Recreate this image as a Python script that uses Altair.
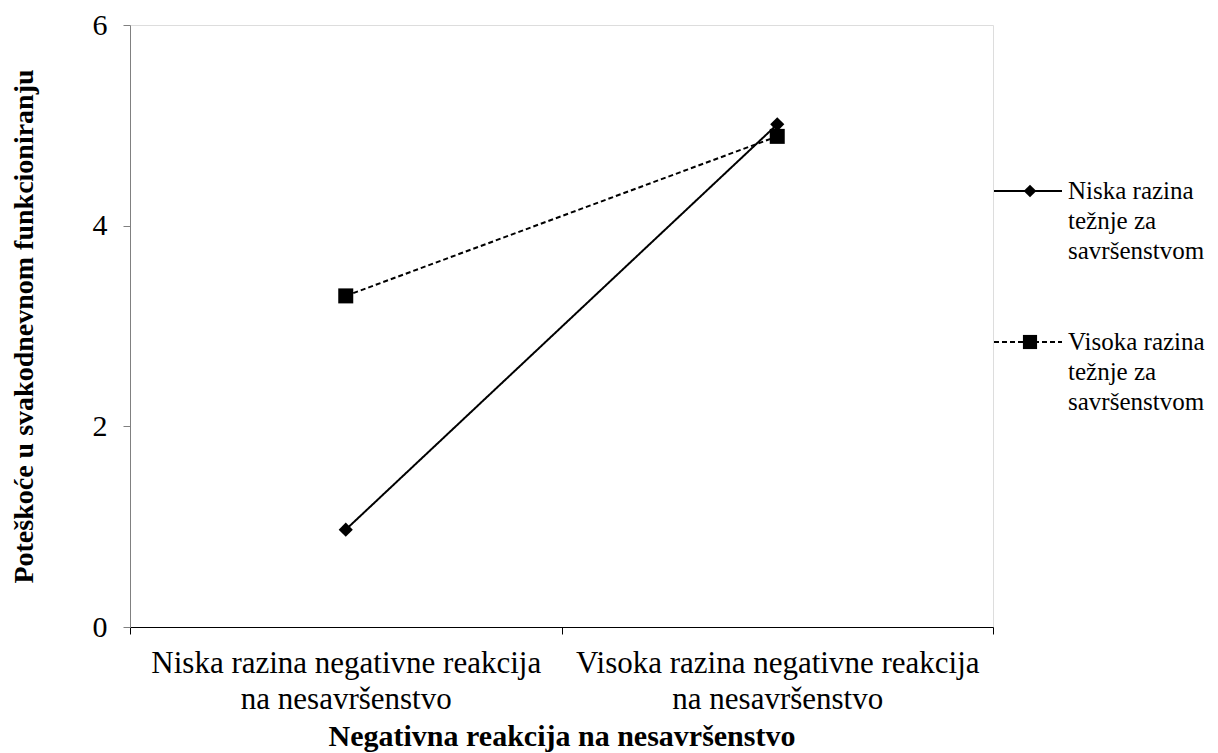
import altair as alt
import pandas as pd

categories = [
    "Niska razina negativne reakcija\nna nesavršenstvo",
    "Visoka razina negativne reakcija\nna nesavršenstvo",
]
series_names = [
    "Niska razina težnje za savršenstvom",
    "Visoka razina težnje za savršenstvom",
]
legend_labels = [
    "Niska razina\ntežnje za\nsavršenstvom",
    "Visoka razina\ntežnje za\nsavršenstvom",
]
niska_values = [0.97, 5.01]
visoka_values = [3.30, 4.89]
y_ticks = [0, 2, 4, 6]

FONT = "Times New Roman, Liberation Serif, serif"

rows = []
for s, vals in zip(series_names, [niska_values, visoka_values]):
    for c, v in zip(categories, vals):
        rows.append({"kat": c, "serija": s, "vrijednost": v})
df = pd.DataFrame(rows)

x_enc = alt.X(
    "kat:N",
    sort=categories,
    scale=alt.Scale(type="band", paddingInner=0, paddingOuter=0, domain=categories),
    axis=alt.Axis(
        title="Negativna reakcija na nesavršenstvo",
        tickBand="extent",
        labelExpr="split(datum.label, '\\n')",
        labelAngle=0,
        labelLimit=0,
        labelFont=FONT,
        labelFontSize=31,
        labelColor="black",
        labelLineHeight=36,
        labelPadding=14,
        labelBaseline="top",
        domainColor="black",
        domainWidth=1,
        tickColor="black",
        tickSize=7,
        titleFont=FONT,
        titleFontSize=30,
        titleFontWeight="bold",
        titleColor="black",
        titleY=109,
        titleBaseline="middle",
    ),
)
y_enc = alt.Y(
    "vrijednost:Q",
    scale=alt.Scale(domain=[0, 6], nice=False),
    axis=alt.Axis(
        values=y_ticks,
        format="d",
        grid=False,
        domainColor="#808080",
        tickColor="#808080",
        tickSize=7,
        labelFont=FONT,
        labelFontSize=30,
        labelColor="black",
        labelPadding=16,
        title="Poteškoće u svakodnevnom funkcioniranju",
        titleFont=FONT,
        titleFontSize=28,
        titleFontWeight="bold",
        titleColor="black",
        titleAngle=270,
        titleX=-106,
        titleY=301,
        titleAlign="center",
        titleBaseline="middle",
    ),
)

base = alt.Chart(df)

lines = base.mark_line(color="black", strokeWidth=2).encode(
    x=x_enc,
    y=y_enc,
    strokeDash=alt.StrokeDash(
        "serija:N",
        scale=alt.Scale(domain=series_names, range=[[1, 0], [5, 3]]),
        legend=None,
    ),
    detail="serija:N",
)

points = base.mark_point(filled=True, color="black", opacity=1).encode(
    x=alt.X("kat:N", sort=categories),
    y=alt.Y("vrijednost:Q"),
    shape=alt.Shape(
        "serija:N",
        scale=alt.Scale(domain=series_names, range=["diamond", "square"]),
        legend=None,
    ),
    size=alt.Size(
        "serija:N",
        scale=alt.Scale(domain=series_names, range=[200, 225]),
        legend=None,
    ),
)

# Manual legend (line + marker + wrapped label) to the right of the plot
legend_layers = []
leg_y = [166, 317]
leg_dash = [[1, 0], [5, 3]]
leg_shape = ["diamond", "square"]
leg_size = [160, 200]
for i in range(2):
    ldf = pd.DataFrame({"serija": [series_names[i]], "oznaka": [legend_labels[i]]})
    lc = alt.Chart(ldf)
    legend_layers.append(
        lc.mark_rule(color="black", strokeWidth=2, strokeDash=leg_dash[i]).encode(
            x=alt.value(864), x2=alt.value(932), y=alt.value(leg_y[i])
        )
    )
    legend_layers.append(
        lc.mark_point(shape=leg_shape[i], filled=True, color="black", opacity=1, size=leg_size[i]).encode(
            x=alt.value(900), y=alt.value(leg_y[i])
        )
    )
    legend_layers.append(
        lc.mark_text(
            align="left",
            baseline="middle",
            font=FONT,
            fontSize=25,
            color="black",
            lineBreak="\n",
            lineHeight=30,
        ).encode(x=alt.value(938), y=alt.value(leg_y[i]), text="oznaka:N")
    )

chart = alt.layer(lines, points, *legend_layers).properties(
    width=863,
    height=602,
    autosize=alt.AutoSizeParams(type="none"),
    padding={"left": 122, "top": 17, "right": 217, "bottom": 126},
).configure_view(stroke=None).configure(background="white", font=FONT)

chart.save("out.html", embed_options={"renderer": "svg", "actions": False})
